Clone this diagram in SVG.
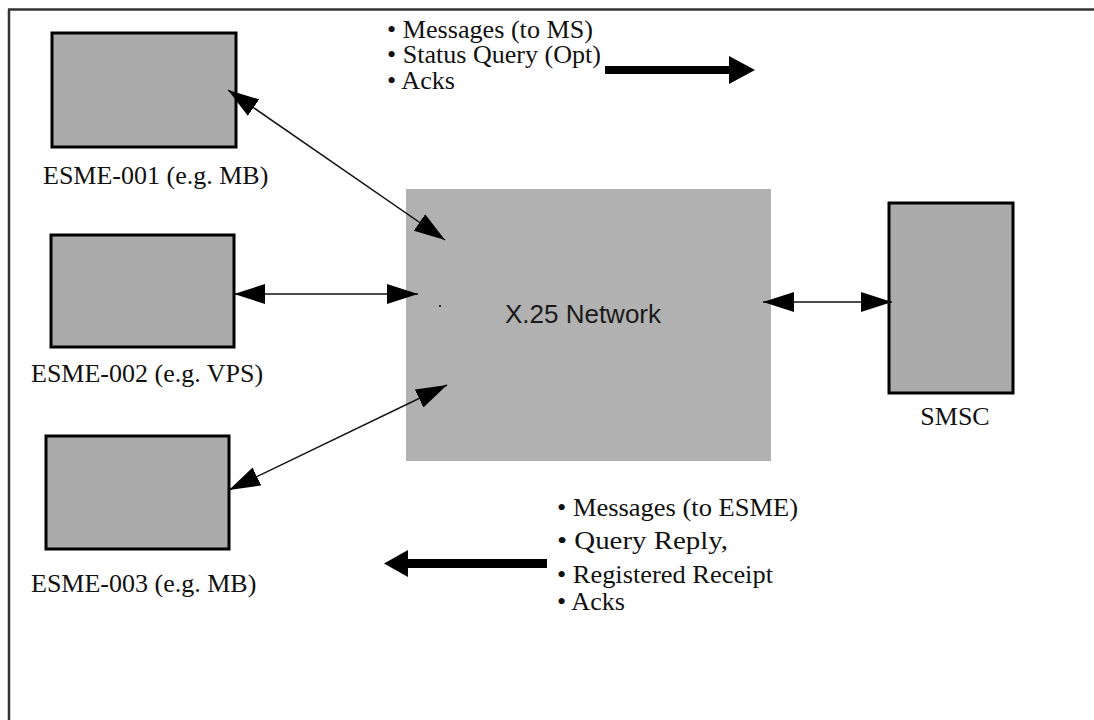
<svg xmlns="http://www.w3.org/2000/svg" width="1094" height="720" viewBox="0 0 1094 720">
<defs>
<style>
.box{fill:#ababab;stroke:#000;stroke-width:3}
.net{fill:#b1b1b1}
.lbl{font-family:"Liberation Serif","Times New Roman",serif;font-size:26px;fill:#111}
.bul{font-family:"Liberation Serif","Times New Roman",serif;font-size:25px;fill:#111}
.conn{stroke:#111;stroke-width:1.5;fill:none;marker-start:url(#ah);marker-end:url(#ah)}
.frame{stroke:#333;stroke-width:2.5;fill:none}
</style>
<marker id="ah" markerUnits="userSpaceOnUse" markerWidth="32" markerHeight="20" refX="31" refY="10" orient="auto-start-reverse">
<path d="M0,0 L31,10 L0,20 Z" fill="#000"/>
</marker>
</defs>
<rect width="1094" height="720" fill="#fff"/>
<path class="frame" d="M8,9.5 H1094 M9,9.5 V720"/>

<g id="esme001">
<rect class="box" x="52" y="33" width="184" height="114"/>
<text class="lbl" x="43" y="184">ESME-001 (e.g. MB)</text>
</g>
<g id="esme002">
<rect class="box" x="51" y="235" width="183" height="112"/>
<text class="lbl" x="31" y="382">ESME-002 (e.g. VPS)</text>
</g>
<g id="esme003">
<rect class="box" x="46" y="436" width="183" height="113"/>
<text class="lbl" x="31" y="592">ESME-003 (e.g. MB)</text>
</g>
<g id="x25">
<rect class="net" x="406" y="189" width="365" height="272"/>
<circle cx="440" cy="306" r="1" fill="#000"/>
<text x="583" y="323" text-anchor="middle" font-family="Liberation Sans, Arial, sans-serif" font-size="26" fill="#1a1a1a">X.25 Network</text>
</g>
<g id="smsc">
<rect class="box" x="889" y="203" width="124" height="190"/>
<text class="lbl" x="955" y="425" text-anchor="middle">SMSC</text>
</g>

<g id="connectors">
<line class="conn" x1="228" y1="90" x2="445" y2="240"/>
<line class="conn" x1="234" y1="294" x2="418" y2="294"/>
<line class="conn" x1="229" y1="490" x2="447" y2="385"/>
<line class="conn" x1="763" y1="302" x2="892" y2="302"/>
<path d="M605,66 H729 V56 L755,70 L729,84 V74 H605 Z" fill="#000"/>
<path d="M547,559 H408 V550 L384,563.5 L408,577 V568 H547 Z" fill="#000"/>
</g>

<g id="notes-top">
<text class="bul" x="387" y="38" textLength="206" lengthAdjust="spacingAndGlyphs">• Messages (to MS)</text>
<text class="bul" x="387" y="63" textLength="214" lengthAdjust="spacingAndGlyphs">• Status Query (Opt)</text>
<text class="bul" x="387" y="89" textLength="68" lengthAdjust="spacingAndGlyphs">• Acks</text>
</g>
<g id="notes-bottom">
<text class="bul" x="557" y="516" textLength="241" lengthAdjust="spacingAndGlyphs">• Messages (to ESME)</text>
<text class="bul" x="557" y="549" textLength="171" lengthAdjust="spacingAndGlyphs">• Query Reply,</text>
<text class="bul" x="557" y="583" textLength="216" lengthAdjust="spacingAndGlyphs">• Registered Receipt</text>
<text class="bul" x="557" y="610" textLength="68" lengthAdjust="spacingAndGlyphs">• Acks</text>
</g>
</svg>
